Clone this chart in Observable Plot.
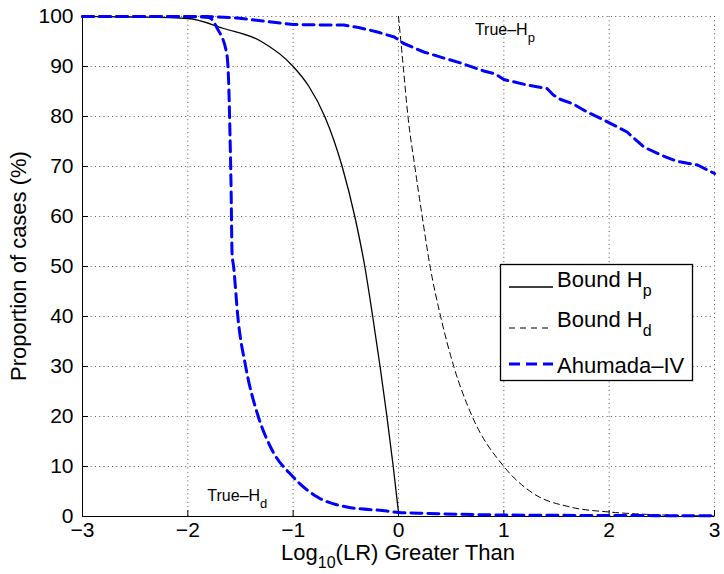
<!DOCTYPE html>
<html><head><meta charset="utf-8">
<script src="https://cdn.jsdelivr.net/npm/d3@7"></script>
<script src="https://cdn.jsdelivr.net/npm/@observablehq/plot@0.6"></script>
<style>
body{margin:0;background:#fff}
#chart{position:relative;width:724px;height:574px}
</style>
</head><body><div id="chart"></div>
<script>
// ---- data ----
const xTicks = [-3, -2, -1, 0, 1, 2, 3];
const yTicks = [0, 10, 20, 30, 40, 50, 60, 70, 80, 90, 100];

const boundHpX = [-3, -2.5, -2, -1.66, -1.31, -1.0, -0.85, -0.70, -0.535, -0.415, -0.32, -0.245, -0.175, -0.11, -0.05, 0];
const boundHpY = [100, 99.9, 99.6, 97.6, 95.1, 90, 86, 80, 70, 60, 50, 40, 30, 20, 10, 0.8];

const boundHdX = [0, 0.045, 0.09, 0.155, 0.225, 0.30, 0.40, 0.525, 0.70, 1.0, 1.28, 1.63, 2.0, 2.33, 2.7, 3.0];
const boundHdY = [100, 90, 80, 70, 60, 50, 40, 30, 20, 10, 4.6, 1.9, 0.9, 0.45, 0.2, 0.1];

const ahuHdX = [-3, -2, -1.8, -1.72, -1.63, -1.61, -1.60, -1.59, -1.58, -1.565, -1.525, -1.45, -1.33, -1.215, -1.0, -0.77, -0.49, -0.11, 0, 0.29, 1, 2, 3];
const ahuHdY = [100, 100, 99.8, 97.6, 92.5, 85.3, 76.6, 66.6, 52.6, 49.9, 39.9, 29.9, 19.9, 13.9, 7.9, 3.9, 1.9, 1.1, 0.8, 0.6, 0.3, 0.2, 0.15];

const ahuHpX = [-3, -1.82, -1.53, -1.25, -1.0, -0.68, -0.52, -0.38, -0.2, -0.04, 0.05, 0.24, 0.46, 0.59, 0.81, 0.92, 1.0, 1.22, 1.41, 1.47, 1.54, 1.66, 1.79, 1.95, 2.08, 2.17, 2.33, 2.49, 2.65, 2.84, 3.0];
const ahuHpY = [100, 100, 99.7, 99.0, 98.4, 98.3, 98.3, 97.8, 96.9, 95.9, 94.6, 92.9, 91.5, 90.7, 89.1, 88.5, 87.4, 86.3, 85.6, 84.3, 83.4, 82.5, 80.9, 79.3, 77.9, 76.9, 73.9, 72.3, 71.0, 70.3, 68.6];

const legendLabels = [["Bound H", "p"], ["Bound H", "d"], ["Ahumada\u2013IV", ""]];
const annotations = [{x: 0.73, y: 96.3, text: "True\u2013H", sub: "p"}, {x: -1.81, y: 3.1, text: "True\u2013H", sub: "d"}];
const xLabel = ["Log", "10", "(LR) Greater Than"];
const yLabel = "Proportion of cases (%)";

const zip = (xs, ys) => xs.map((x, i) => ({x, y: ys[i]}));
const FONT = "'Liberation Sans', Arial, Helvetica, sans-serif";

const W = 724, H = 574, mL = 82, mR = 10, mT = 16, mB = 58;
const tickLenY = 6 / (H - mT - mB) * 100;   // 6px inward tick, in y units
const tickLenX = 6 / (W - mL - mR) * 6;     // 6px inward tick, in x units
const minus = d => d < 0 ? "\u2212" + (-d) : String(d);

const chart = Plot.plot({
  width: W, height: H,
  marginLeft: mL, marginRight: mR, marginTop: mT, marginBottom: mB,
  x: {domain: [-3, 3]},
  y: {domain: [0, 100]},
  style: {fontFamily: FONT, fontSize: "21px", color: "#000", background: "white", overflow: "visible"},
  marks: [
    Plot.gridX(xTicks, {stroke: "#444", strokeOpacity: 0.9, strokeDasharray: "1,3.3"}),
    Plot.gridY(yTicks, {stroke: "#444", strokeOpacity: 0.9, strokeDasharray: "1,3.3"}),
    Plot.ruleX([-3], {stroke: "black", strokeWidth: 1}),
    Plot.ruleY([0], {stroke: "black", strokeWidth: 1}),
    Plot.ruleX(xTicks, {y1: 0, y2: tickLenY, stroke: "black"}),
    Plot.ruleY(yTicks, {x1: -3, x2: -3 + tickLenX, stroke: "black"}),
    Plot.axisX(xTicks, {tickSize: 0, tickPadding: 6, tickFormat: minus, label: null, fontSize: 21}),
    Plot.axisY(yTicks, {tickSize: 0, tickPadding: 9, tickFormat: minus, label: null, fontSize: 21}),
    Plot.line(zip(boundHdX, boundHdY), {x: "x", y: "y", stroke: "black", strokeWidth: 1, strokeDasharray: "6,4", curve: "monotone-x"}),
    Plot.line(zip(boundHpX, boundHpY), {x: "x", y: "y", stroke: "black", strokeWidth: 1.3, curve: "monotone-x"}),
    Plot.line(zip(ahuHdX, ahuHdY), {x: "x", y: "y", stroke: "#0000ff", strokeWidth: 3, strokeDasharray: "11,6", curve: "monotone-x"}),
    Plot.line(zip(ahuHpX, ahuHpY), {x: "x", y: "y", stroke: "#0000ff", strokeWidth: 3, strokeDasharray: "11,6"})
  ]
});

const sx = chart.scale("x").apply, sy = chart.scale("y").apply;
const svg = d3.select(chart);

// annotations
for (const a of annotations) {
  const t = svg.append("text").attr("x", sx(a.x)).attr("y", sy(a.y)).attr("text-anchor", "start")
    .attr("font-family", FONT).attr("font-size", 16).attr("fill", "black");
  t.append("tspan").text(a.text);
  t.append("tspan").attr("dy", 7).attr("font-size", 13).text(a.sub);
}

// x label
{
  const t = svg.append("text").attr("x", sx(0)).attr("y", 560).attr("text-anchor", "middle")
    .attr("font-family", FONT).attr("font-size", 22).attr("fill", "black");
  t.append("tspan").text(xLabel[0]);
  t.append("tspan").attr("dy", 8).attr("font-size", 16).text(xLabel[1]);
  t.append("tspan").attr("dy", -8).text(xLabel[2]);
}
// y label
svg.append("text").attr("transform", `translate(26,${sy(50)}) rotate(-90)`).attr("text-anchor", "middle")
  .attr("font-family", FONT).attr("font-size", 22).attr("fill", "black").text(yLabel);

// legend
{
  const g = svg.append("g").attr("font-family", FONT).attr("text-anchor", "start");
  g.append("rect").attr("x", 500.5).attr("y", 264.5).attr("width", 192).attr("height", 116)
    .attr("fill", "white").attr("stroke", "black").attr("stroke-width", 1.3);
  const styles = [
    {stroke: "black", w: 1.3, dash: null},
    {stroke: "black", w: 1, dash: "6,5"},
    {stroke: "#0000ff", w: 3, dash: "11,6"}
  ];
  const lineYs = [287, 328, 364], textYs = [286.5, 326.5, 372.5];
  legendLabels.forEach(([lab, sub], i) => {
    const s = styles[i];
    const ln = g.append("line").attr("x1", 509).attr("x2", 553).attr("y1", lineYs[i]).attr("y2", lineYs[i])
      .attr("stroke", s.stroke).attr("stroke-width", s.w);
    if (s.dash) ln.attr("stroke-dasharray", s.dash);
    const t = g.append("text").attr("x", 557).attr("y", textYs[i]).attr("font-size", 22).attr("fill", "black");
    t.append("tspan").text(lab);
    if (sub) t.append("tspan").attr("dy", 9).attr("font-size", 16).text(sub);
  });
}

document.getElementById("chart").appendChild(chart);
</script>
</body></html>
